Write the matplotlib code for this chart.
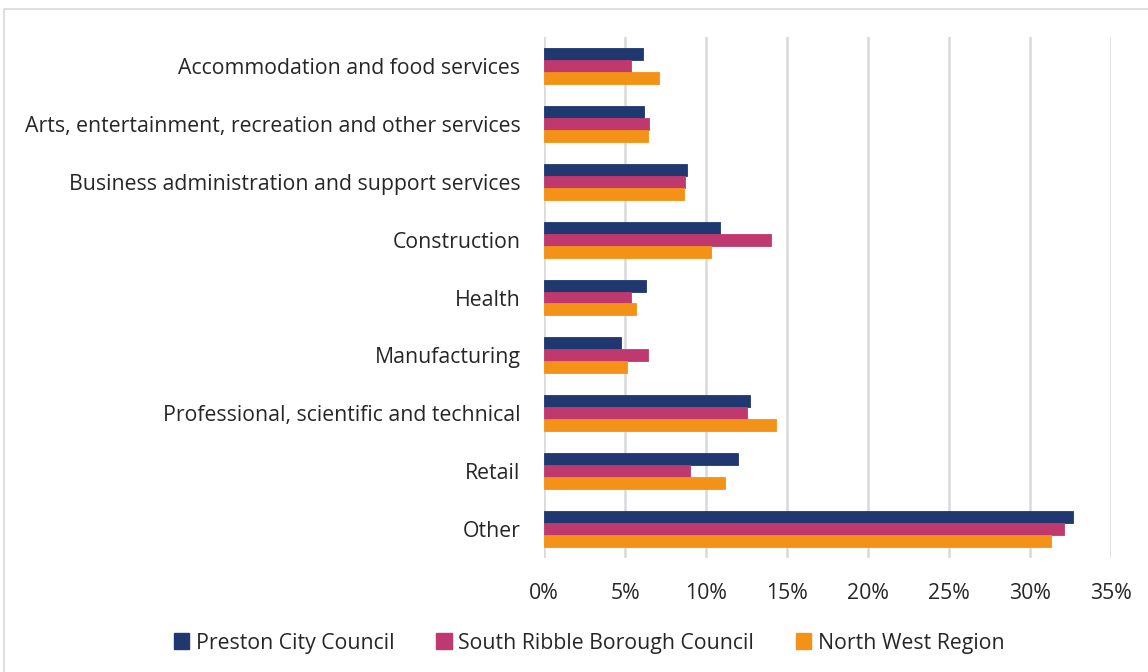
import matplotlib
matplotlib.use("Agg")
import matplotlib.pyplot as plt
from matplotlib.patches import Patch, Rectangle
from matplotlib.ticker import FuncFormatter, MultipleLocator
import numpy as np

plt.rcParams['font.family'] = ['Open Sans', 'DejaVu Sans']

categories = [
    "Accommodation and food services",
    "Arts, entertainment, recreation and other services",
    "Business administration and support services",
    "Construction",
    "Health",
    "Manufacturing",
    "Professional, scientific and technical",
    "Retail",
    "Other",
]
series_names = ["Preston City Council", "South Ribble Borough Council", "North West Region"]
preston = [6.1, 6.2, 8.8, 10.85, 6.3, 4.75, 12.7, 12.0, 32.65]
south_ribble = [5.4, 6.5, 8.7, 14.0, 5.4, 6.4, 12.5, 9.0, 32.1]
north_west = [7.1, 6.4, 8.65, 10.3, 5.7, 5.1, 14.35, 11.2, 31.3]
colors = ["#1F3870", "#C0396E", "#F39217"]

FS = 15.3

fig = plt.figure(figsize=(11.48, 6.72), dpi=100)
ax = fig.add_axes([544 / 1148, 1 - 558 / 672, (1111 - 544) / 1148, (558 - 37) / 672])

# outer frame of the chart area
fig.patches.append(Rectangle((4 / 1148, -0.1), 1.2, 1 - 9 / 672 + 0.1,
                             transform=fig.transFigure, fill=False,
                             edgecolor="#D9D9D9", linewidth=1.2))

y = np.arange(len(categories))
h = 0.207
for i, (vals, col) in enumerate(zip([preston, south_ribble, north_west], colors)):
    ax.barh(y + (i - 1) * h, vals, height=h, color=col, zorder=3,
            edgecolor=col, linewidth=0.6)

ax.set_ylim(len(categories) - 0.5, -0.5)
ax.set_yticks(y)
ax.set_yticklabels(categories, fontsize=FS, color="#262626")
ax.set_xlim(0, 35)
ax.xaxis.set_major_locator(MultipleLocator(5))
ax.xaxis.set_major_formatter(FuncFormatter(lambda v, p: f"{v:.0f}%"))
ax.tick_params(axis='x', labelsize=FS, colors="#262626", length=0, pad=18)
ax.tick_params(axis='y', length=0, pad=17)
ax.grid(axis='x', color="#D9D9D9", linewidth=1.8, zorder=0)
for s in ax.spines.values():
    s.set_visible(False)

handles = [Patch(facecolor=c, edgecolor=c) for c in colors]
fig.legend(handles, series_names, loc="center", bbox_to_anchor=(589 / 1148, 1 - 643 / 672),
           ncol=3, frameon=False, fontsize=FS, handlelength=0.75, handleheight=0.75,
           handletextpad=0.3, columnspacing=1.95, labelcolor="#262626")

fig.savefig("out.png", dpi=100)
